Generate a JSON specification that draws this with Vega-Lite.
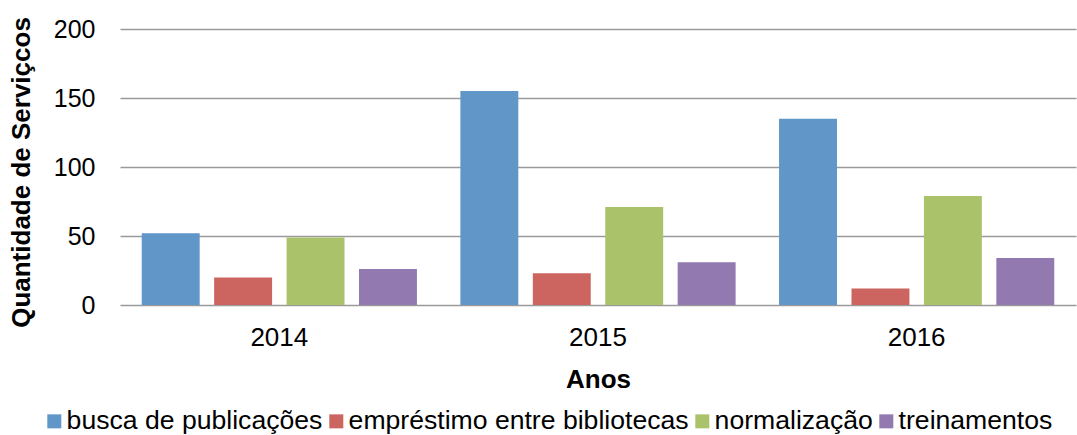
{
  "$schema": "https://vega.github.io/schema/vega-lite/v6.json",
  "width": 956,
  "height": 276,
  "autosize": {"type": "none"},
  "padding": {"left": 120, "top": 29, "right": 1, "bottom": 130},
  "background": "white",
  "config": {
    "view": {"stroke": null},
    "font": "Arial",
    "axis": {"labelFont": "Arial", "titleFont": "Arial", "labelColor": "#000000", "titleColor": "#000000"},
    "legend": {"labelFont": "Arial"}
  },
  "data": {
    "values": [
      {"ano": "2014", "servico": "busca de publicações", "valor": 52},
      {"ano": "2014", "servico": "empréstimo entre bibliotecas", "valor": 20},
      {"ano": "2014", "servico": "normalização", "valor": 49},
      {"ano": "2014", "servico": "treinamentos", "valor": 26},
      {"ano": "2015", "servico": "busca de publicações", "valor": 155},
      {"ano": "2015", "servico": "empréstimo entre bibliotecas", "valor": 23},
      {"ano": "2015", "servico": "normalização", "valor": 71},
      {"ano": "2015", "servico": "treinamentos", "valor": 31},
      {"ano": "2016", "servico": "busca de publicações", "valor": 135},
      {"ano": "2016", "servico": "empréstimo entre bibliotecas", "valor": 12},
      {"ano": "2016", "servico": "normalização", "valor": 79},
      {"ano": "2016", "servico": "treinamentos", "valor": 34}
    ]
  },
  "mark": {"type": "bar"},
  "encoding": {
    "x": {
      "field": "ano",
      "type": "nominal",
      "scale": {"paddingInner": 0, "paddingOuter": 0},
      "axis": {
        "title": "Anos",
        "labelAngle": 0,
        "labelFontSize": 26,
        "labelPadding": 19,
        "ticks": false,
        "domain": false,
        "titleFontSize": 26,
        "titleFontWeight": "bold",
        "titlePadding": 16
      }
    },
    "xOffset": {
      "field": "servico",
      "type": "nominal",
      "scale": {"paddingInner": 0.2, "paddingOuter": 0.3}
    },
    "y": {
      "field": "valor",
      "type": "quantitative",
      "scale": {"domain": [0, 200], "nice": false},
      "axis": {
        "title": "Quantidade de Serviçcos",
        "values": [0, 50, 100, 150, 200],
        "labelFontSize": 25,
        "labelPadding": 25,
        "ticks": false,
        "domain": false,
        "grid": true,
        "gridColor": "#9a9a9a",
        "gridWidth": 1.6,
        "titleFontSize": 26,
        "titleFontWeight": "bold",
        "titlePadding": 19,
        "titleY": 143
      }
    },
    "color": {
      "field": "servico",
      "type": "nominal",
      "scale": {
        "domain": ["busca de publicações", "empréstimo entre bibliotecas", "normalização", "treinamentos"],
        "range": ["#6096c8", "#cc6560", "#aac36b", "#9279b0"]
      },
      "legend": {
        "title": null,
        "orient": "none",
        "direction": "horizontal",
        "legendX": -79,
        "legendY": 379,
        "symbolType": "square",
        "symbolSize": 196,
        "symbolStrokeWidth": 0,
        "labelFontSize": 26.6,
        "labelColor": "#000000",
        "labelOffset": -1,
        "columnPadding": 0,
        "labelLimit": 500
      }
    }
  }
}
